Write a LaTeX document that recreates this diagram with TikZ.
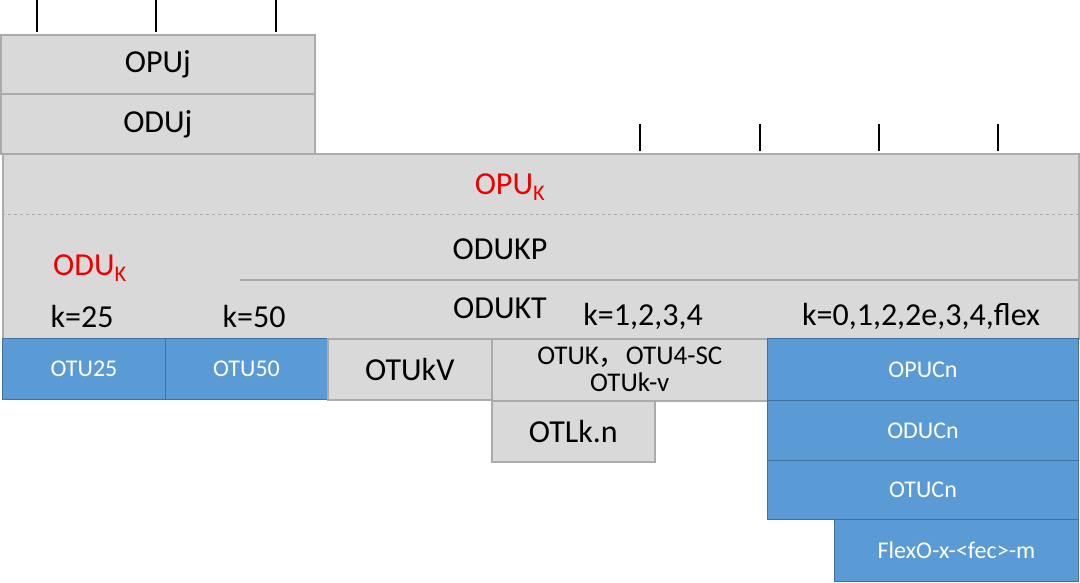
\documentclass[tikz,border=0pt]{standalone}
\usepackage{fontspec}
\setmainfont{Carlito}
\newfontfamily\cjk{Noto Sans CJK SC}
\usetikzlibrary{positioning}
\definecolor{boxgrey}{HTML}{D9D9D9}
\definecolor{edgegrey}{HTML}{ABABAB}
\definecolor{boxblue}{HTML}{5B9BD5}
\definecolor{edgeblue}{HTML}{41719C}
\definecolor{labelred}{HTML}{EE0000}

\tikzset{
	greybox/.style={draw=edgegrey, fill=boxgrey, line width=1.6pt, inner sep=0pt, anchor=north west,
		font=\fontsize{32}{34}\selectfont},
	bluebox/.style={draw=edgeblue, fill=boxblue, line width=1pt, inner sep=0pt, anchor=north west,
		text=white, font=\fontsize{24}{26}\selectfont},
	lbl/.style={inner sep=0pt, font=\fontsize{32}{34}\selectfont},
	tickline/.style={line width=2pt},
}

\begin{document}
\begin{tikzpicture}[x=1pt, y=-1pt]
	\useasboundingbox (0,0) rectangle (1080,583);
	% upper layer
	\node[greybox, minimum width=314pt, minimum height=59pt] (opuj) at (0,34) {OPUj};
	\node[greybox, minimum width=314pt, minimum height=60pt] (oduj) at (0,93) {ODUj};
	\node[greybox, minimum width=1076pt, minimum height=185pt] (oduk) at (2,153) {};
	\draw[edgegrey, line width=1pt, dashed] (oduk.west |- 0,215) -- (oduk.east |- 0,215);
	\draw[edgegrey, line width=1.6pt] (240,280) -- (oduk.east |- 0,280);
	\foreach \x in {37,156,276}
		\draw[tickline] (\x,0) -- (\x,32);
	\foreach \x in {640,760,879,998}
		\draw[tickline] (\x,124) -- (\x,151);
	\node[lbl, text=labelred] (opuk) at (510,187) {OPU\textsubscript{K}};
	\node[lbl] (odukp) at (500,249) {ODUKP};
	\node[lbl, text=labelred] (oduklbl) at (90,268) {ODU\textsubscript{K}};
	\node[lbl] (odukt) at (500,308) {ODUKT};
	\node[lbl] (k25) at (82,316) {k=25};
	\node[lbl] (k50) at (254,316) {k=50};
	\node[lbl] (k1234) at (643,316) {k=1,2,3,4};
	\node[lbl] (kflex) at (921,316) {k=0,1,2,2e,3,4,flex};
	% lower layer
	\node[bluebox, minimum width=163pt, minimum height=61pt] (otu25) at (2,338) {OTU25};
	\node[bluebox, minimum width=162pt, minimum height=61pt] (otu50) at (165,338) {OTU50};
	\node[greybox, minimum width=164pt, minimum height=61pt] (otukv) at (327,338) {OTUkV};
	\node[greybox, minimum width=276pt, minimum height=62pt, align=center,
		font=\fontsize{27}{27}\selectfont] (otuk) at (491,338) {OTUK{\cjk ，}OTU4-SC\\OTUk-v};
	\node[greybox, minimum width=163pt, minimum height=61pt] (otlkn) at (491,400) {OTLk.n};
	\node[bluebox, minimum width=311pt, minimum height=62pt] (opucn) at (767,338) {OPUCn};
	\node[bluebox, minimum width=311pt, minimum height=60pt] (oducn) at (767,400) {ODUCn};
	\node[bluebox, minimum width=311pt, minimum height=59pt] (otucn) at (767,460) {OTUCn};
	\node[bluebox, minimum width=244pt, minimum height=62pt] (flexo) at (834,519) {FlexO-x-<fec>-m};
\end{tikzpicture}
\end{document}
